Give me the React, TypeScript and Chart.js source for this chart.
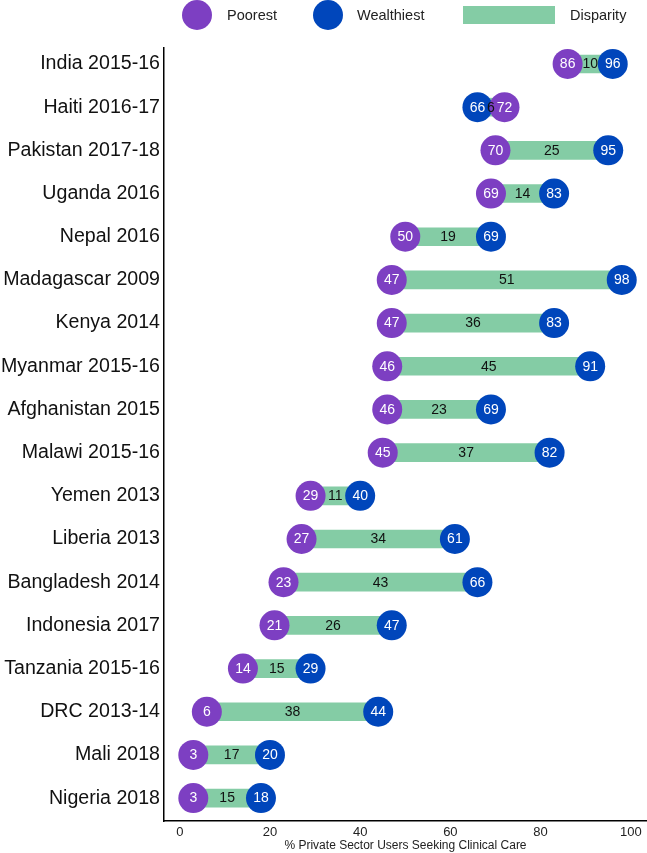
import React, { useEffect, useRef } from "react";
import { Chart, registerables } from "chart.js";

Chart.register(...registerables);

const countries = [
  "India 2015-16",
  "Haiti 2016-17",
  "Pakistan 2017-18",
  "Uganda 2016",
  "Nepal 2016",
  "Madagascar 2009",
  "Kenya 2014",
  "Myanmar 2015-16",
  "Afghanistan 2015",
  "Malawi 2015-16",
  "Yemen 2013",
  "Liberia 2013",
  "Bangladesh 2014",
  "Indonesia 2017",
  "Tanzania 2015-16",
  "DRC 2013-14",
  "Mali 2018",
  "Nigeria 2018",
];
const poorest = [86, 72, 70, 69, 50, 47, 47, 46, 46, 45, 29, 27, 23, 21, 14, 6, 3, 3];
const wealthiest = [96, 66, 95, 83, 69, 98, 83, 91, 69, 82, 40, 61, 66, 47, 29, 44, 20, 18];
const disparity = [10, 6, 25, 14, 19, 51, 36, 45, 23, 37, 11, 34, 43, 26, 15, 38, 17, 15];
const xTicks = [0, 20, 40, 60, 80, 100];
const xTitle = "% Private Sector Users Seeking Clinical Care";
const legendLabels = ["Poorest", "Wealthiest", "Disparity"];

const PURPLE = "#7D3FC2";
const BLUE = "#0046BB";
const GREEN = "#84CCA5";
const FONT = "Arial, 'Liberation Sans', sans-serif";

const labelPlugin = {
  id: "valueLabels",
  afterDatasetsDraw(chart: any) {
    const ctx = chart.ctx;
    const barMeta = chart.getDatasetMeta(2);
    const wMeta = chart.getDatasetMeta(1);
    const pMeta = chart.getDatasetMeta(0);
    ctx.save();
    ctx.textAlign = "center";
    ctx.textBaseline = "middle";
    ctx.font = `14px ${FONT}`;
    ctx.fillStyle = "#ffffff";
    wMeta.data.forEach((el: any, i: number) => {
      ctx.fillText(String(wealthiest[i]), el.x, el.y + 0.5);
    });
    pMeta.data.forEach((el: any, i: number) => {
      ctx.fillText(String(poorest[i]), el.x, el.y + 0.5);
    });
    ctx.fillStyle = "#111111";
    barMeta.data.forEach((el: any, i: number) => {
      const cx = (el.x + el.base) / 2;
      ctx.fillText(String(disparity[i]), cx, el.y + 0.5);
    });
    ctx.restore();
  },
};

const legendPlugin = {
  id: "customLegend",
  afterDraw(chart: any) {
    const ctx = chart.ctx;
    ctx.save();
    const cy = 15;
    ctx.fillStyle = PURPLE;
    ctx.beginPath();
    ctx.arc(197, cy, 15, 0, Math.PI * 2);
    ctx.fill();
    ctx.fillStyle = BLUE;
    ctx.beginPath();
    ctx.arc(328, cy, 15, 0, Math.PI * 2);
    ctx.fill();
    ctx.fillStyle = GREEN;
    ctx.fillRect(463, 6, 92, 18);
    ctx.fillStyle = "#222222";
    ctx.font = `14.5px ${FONT}`;
    ctx.textAlign = "left";
    ctx.textBaseline = "middle";
    ctx.fillText(legendLabels[0], 227, cy + 0.5);
    ctx.fillText(legendLabels[1], 357, cy + 0.5);
    ctx.fillText(legendLabels[2], 570, cy + 0.5);
    ctx.restore();
  },
};

export default function App() {
  const canvasRef = useRef<HTMLCanvasElement | null>(null);

  useEffect(() => {
    document.body.style.margin = "0";
    const canvas = canvasRef.current;
    if (!canvas) return;
    const chart = new Chart(canvas, {
      type: "bar",
      data: {
        datasets: [
          {
            type: "scatter",
            label: legendLabels[0],
            data: poorest.map((v, i) => ({ x: v, y: i })),
            backgroundColor: PURPLE,
            borderWidth: 0,
            pointRadius: 15,
            pointHoverRadius: 15,
          } as any,
          {
            type: "scatter",
            label: legendLabels[1],
            data: wealthiest.map((v, i) => ({ x: v, y: i })),
            backgroundColor: BLUE,
            borderWidth: 0,
            pointRadius: 15,
            pointHoverRadius: 15,
          } as any,
          {
            type: "bar",
            label: legendLabels[2],
            indexAxis: "y",
            data: poorest.map((p, i) => ({
              y: i,
              x: [Math.min(p, wealthiest[i]), Math.max(p, wealthiest[i])],
            })),
            backgroundColor: GREEN,
            borderWidth: 0,
            barThickness: 18,
            borderSkipped: false,
          } as any,
        ],
      },
      options: {
        animation: false,
        responsive: true,
        maintainAspectRatio: false,
        indexAxis: "y",
        layout: { autoPadding: false, padding: { top: 48, right: 0, left: 0, bottom: 0 } },
        plugins: {
          legend: { display: false },
          tooltip: { enabled: false },
        },
        scales: {
          x: {
            type: "linear",
            position: "bottom",
            offset: false,
            min: -3.5,
            max: 103.6,
            afterBuildTicks: (scale: any) => {
              scale.ticks = xTicks.map((v) => ({ value: v }));
            },
            afterFit: (scale: any) => {
              scale.height = 32;
              scale.paddingLeft = 0;
              scale.paddingRight = 0;
            },
            grid: { display: false, drawTicks: false, tickLength: 0 },
            border: { display: true, color: "#000000", width: 1.5 },
            ticks: {
              padding: 4,
              color: "#222222",
              font: { size: 13, family: FONT },
              maxRotation: 0,
            },
            title: {
              display: true,
              text: xTitle,
              color: "#222222",
              font: { size: 12, family: FONT },
              padding: { top: 0, bottom: 0 },
            },
          },
          y: {
            type: "linear",
            position: "left",
            reverse: true,
            offset: false,
            min: -0.37,
            max: 17.53,
            afterBuildTicks: (scale: any) => {
              scale.ticks = countries.map((_, i) => ({ value: i }));
            },
            afterFit: (scale: any) => {
              scale.width = 164;
              scale.paddingTop = 0;
              scale.paddingBottom = 0;
            },
            grid: { display: false, drawTicks: false, tickLength: 0 },
            border: { display: true, color: "#000000", width: 1.5 },
            ticks: {
              autoSkip: false,
              padding: 4,
              color: "#111111",
              font: { size: 19.6, family: FONT },
              callback: (v: any) => countries[Math.round(Number(v))] ?? "",
            },
          },
        },
      } as any,
      plugins: [labelPlugin, legendPlugin],
    });
    return () => chart.destroy();
  }, []);

  return (
    <div style={{ width: 647, height: 853, position: "relative" }}>
      <canvas ref={canvasRef} />
    </div>
  );
}
